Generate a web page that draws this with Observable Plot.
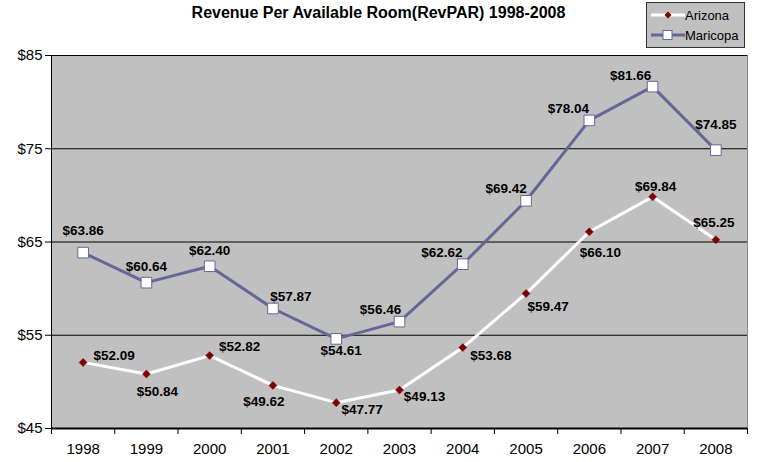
<!DOCTYPE html>
<html>
<head>
<meta charset="utf-8">
<script src="https://cdn.jsdelivr.net/npm/d3@7"></script>
<script src="https://cdn.jsdelivr.net/npm/@observablehq/plot@0.6"></script>
<style>
  html, body { margin: 0; padding: 0; background: #fff; }
  #wrap { position: relative; width: 757px; height: 462px; font-family: "Liberation Sans", Arial, sans-serif; }
  #title { position: absolute; left: 0; width: 757px; top: 4px; text-align: center; font-weight: bold; font-size: 16px; color: #000; }
  #legend { position: absolute; left: 646px; top: 2px; width: 99px; height: 46px; background: #c0c0c0; border: 1px solid #333; box-sizing: border-box; font-size: 13px; padding-top: 2px; }
  .lg { display: flex; align-items: center; height: 20px; margin-left: 2px; }
  .lg svg { margin-right: 0px; }
</style>
</head>
<body>
<div id="wrap">
  <div id="title">Revenue Per Available Room(RevPAR) 1998-2008</div>
  <div id="chart"></div>
  <div id="legend"></div>
</div>
<script>
const years = [1998, 1999, 2000, 2001, 2002, 2003, 2004, 2005, 2006, 2007, 2008];
const arizona = [52.09, 50.84, 52.82, 49.62, 47.77, 49.13, 53.68, 59.47, 66.10, 69.84, 65.25];
const maricopa = [63.86, 60.64, 62.40, 57.87, 54.61, 56.46, 62.62, 69.42, 78.04, 81.66, 74.85];
const yTicks = [45, 55, 65, 75, 85];
const seriesNames = ["Arizona", "Maricopa"];

// label placement offsets (styling, not data)
const azOffsets = [[31,-7],[11,18],[30,-9],[-9,16],[26,7],[25,7],[28,8],[22,13],[11,21],[3,-10],[-2,-17]];
const mcOffsets = [[0,-22],[0,-16],[0,-16],[18,-12],[5,12],[-19,-12],[-21,-12],[-20,-12],[-21,-12],[-22,-11],[0,-25]];

const fmt = v => "$" + v.toFixed(2);
const az = years.map((y, i) => ({year: y, value: arizona[i], dx: azOffsets[i][0], dy: azOffsets[i][1]}));
const mc = years.map((y, i) => ({year: y, value: maricopa[i], dx: mcOffsets[i][0], dy: mcOffsets[i][1]}));
const bounds = years.map(y => y - 0.5).concat([years[years.length - 1] + 0.5]);

const mcColor = "#666699";
const azColor = "#800000";

function labels(data) {
  return data.map(d => Plot.text([d], {x: "year", y: "value", text: d => fmt(d.value), dx: d.dx, dy: d.dy,
    fontWeight: "bold", fontSize: 13.5, fill: "#000"}));
}

const chart = Plot.plot({
  width: 757,
  height: 462,
  marginLeft: 51,
  marginRight: 10,
  marginTop: 55,
  marginBottom: 34,
  style: {fontFamily: "'Liberation Sans', Arial, sans-serif", background: "transparent", overflow: "visible"},
  x: {type: "linear", domain: [bounds[0], bounds[bounds.length - 1]], axis: null},
  y: {domain: [45, 85], axis: null},
  marks: [
    Plot.frame({fill: "#c0c0c0", stroke: "#888"}),
    Plot.ruleY(yTicks.slice(1), {stroke: "#000", strokeWidth: 1}),
    Plot.ruleX([bounds[0]], {stroke: "#000", strokeWidth: 1}),
    Plot.ruleY([45], {stroke: "#000", strokeWidth: 2}),
    Plot.axisY({ticks: yTicks, tickFormat: d => "$" + d, tickSize: 6, fontSize: 15, tickPadding: 3, anchor: "left", label: null}),
    Plot.axisX({ticks: bounds, tickFormat: () => "", tickSize: 6, anchor: "bottom", label: null}),
    Plot.axisX({ticks: years, tickFormat: d => String(d), tickSize: 0, tickPadding: 15, fontSize: 15, anchor: "bottom", label: null}),
    Plot.line(mc, {x: "year", y: "value", stroke: mcColor, strokeWidth: 3}),
    Plot.dot(mc, {x: "year", y: "value", symbol: "square", r: 6, fill: "#fff", stroke: mcColor, strokeWidth: 1}),
    Plot.line(az, {x: "year", y: "value", stroke: "#fff", strokeWidth: 3}),
    Plot.dot(az, {x: "year", y: "value", symbol: "diamond2", r: 3.6, fill: azColor, stroke: azColor, strokeWidth: 0.5}),
    ...labels(mc),
    ...labels(az)
  ]
});
document.getElementById("chart").appendChild(chart);

// legend
const legend = document.getElementById("legend");
const items = [
  {name: seriesNames[0], line: "#fff", sym: `<path d="M19,1.5 L22.5,5 L19,8.5 L15.5,5 Z" fill="${azColor}"/>`},
  {name: seriesNames[1], line: mcColor, sym: `<rect x="14" y="0.5" width="9" height="9" fill="#fff" stroke="${mcColor}"/>`}
];
for (const it of items) {
  const row = document.createElement("div");
  row.className = "lg";
  row.innerHTML = `<svg width="36" height="10"><line x1="2" x2="36" y1="5" y2="5" stroke="${it.line}" stroke-width="3"/>${it.sym}</svg><span>${it.name}</span>`;
  legend.appendChild(row);
}
</script>
</body>
</html>
